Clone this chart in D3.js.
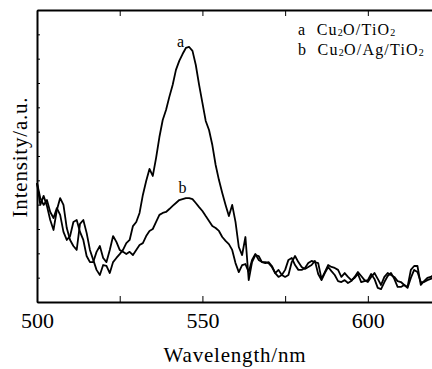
<!DOCTYPE html>
<html lang="en">
<head>
<meta charset="utf-8">
<title>PL spectra</title>
<script src="https://d3js.org/d3.v7.min.js"></script>
<style>
  body { margin: 0; background: #fff; }
  svg { display: block; }
  .axis path, .axis line { stroke: #000; }
  .axis path { stroke-width: 2px; }
  .axis line { stroke-width: 1px; }
  .tick text { font-family: "Liberation Serif", "Times New Roman", serif; font-size: 22px; fill: #000; }
  .title { font-family: "Liberation Serif", "Times New Roman", serif; font-size: 21px; letter-spacing: 0.8px; fill: #000; }
  .legend { font-family: "Liberation Serif", "Times New Roman", serif; font-size: 16px; letter-spacing: 1.2px; fill: #000; }
  .lbl { font-family: "Liberation Serif", "Times New Roman", serif; font-size: 16px; fill: #000; }
  .line { fill: none; stroke: #000; stroke-width: 1.8px; stroke-linejoin: round; }
</style>
</head>
<body>
<div id="vis"></div>
<script>
// wavelength grid, 1 nm step
const wavelengths = d3.range(500, 621);

// curve a : Cu2O/TiO2
const seriesA = [
  4.89, 3.99, 4.36, 3.95, 3.37, 2.96, 3.78, 4.27, 3.99, 3.04,
  2.55, 2.30, 2.14, 3.21, 3.37, 2.84, 2.14, 1.73, 1.32, 1.11,
  1.52, 1.48, 1.19, 1.64, 1.81, 1.97, 2.14, 2.42, 2.55, 3.12,
  3.29, 3.66, 4.40, 4.97, 5.47, 5.18, 5.92, 6.78, 7.48, 7.89,
  8.43, 8.92, 9.54, 9.91, 10.19, 10.44, 10.48, 10.32, 9.74, 8.92,
  8.18, 7.44, 7.07, 6.45, 5.63, 5.01, 4.48, 3.99, 3.53, 3.99,
  3.29, 2.26, 1.93, 2.67, 0.90, 1.64, 1.93, 1.89, 1.64, 1.64,
  1.60, 1.44, 1.19, 1.03, 1.11, 1.32, 1.73, 1.81, 1.52, 1.32,
  1.32, 1.40, 1.60, 1.69, 1.64, 1.60, 0.95, 1.23, 1.52, 1.44,
  1.40, 1.32, 1.03, 1.19, 1.03, 0.90, 0.99, 1.15, 0.82, 0.86,
  0.90, 1.15, 0.95, 0.58, 0.53, 0.82, 1.07, 1.19, 0.95, 0.62,
  0.62, 0.70, 0.62, 1.32, 1.48, 1.48, 0.70, 0.86, 0.99, 1.03,
  1.11
];

// curve b : Cu2O/Ag/TiO2
const seriesB = [
  4.89, 4.27, 3.99, 4.19, 3.70, 3.45, 3.86, 3.58, 2.88, 2.55,
  2.71, 3.29, 3.37, 2.88, 2.55, 1.89, 1.64, 1.64, 2.06, 2.30,
  1.81, 1.64, 2.14, 2.71, 2.47, 2.14, 2.06, 1.97, 2.06, 1.93,
  2.14, 2.34, 2.42, 2.71, 2.92, 3.00, 3.29, 3.58, 3.66, 3.70,
  3.82, 3.95, 4.07, 4.19, 4.23, 4.27, 4.27, 4.23, 4.07, 3.90,
  3.74, 3.53, 3.33, 3.12, 3.04, 2.92, 2.67, 2.51, 2.38, 2.14,
  1.60, 1.23, 1.52, 1.56, 1.23, 1.73, 1.97, 1.73, 1.64, 1.60,
  1.64, 1.48, 1.19, 1.32, 1.11, 1.03, 1.11, 1.64, 1.89, 1.64,
  1.44, 1.36, 1.44, 1.52, 1.69, 1.15, 0.90, 1.19, 1.44, 1.27,
  1.11, 0.86, 0.82, 0.90, 0.78, 0.86, 1.03, 1.23, 1.07, 0.90,
  0.82, 1.03, 1.19, 0.95, 0.70, 1.03, 1.19, 1.11, 1.03, 0.86,
  0.82, 0.70, 0.58, 0.99, 1.32, 1.23, 0.82, 0.82, 0.90, 0.95,
  1.03
];

const xTicks = [500, 525, 550, 575, 600, 625];
const xLabels = [500, 550, 600];
const yTicks = d3.range(0, 13);

const width = 432, height = 369;
const margin = {top: 10, right: -2, bottom: 67, left: 37};

const svg = d3.select("#vis").append("svg")
  .attr("width", width)
  .attr("height", height);

const x = d3.scaleLinear()
  .domain([500, 620])
  .range([margin.left, width - margin.right]);

const y = d3.scaleLinear()
  .domain([0, 12])
  .range([height - margin.bottom, margin.top]);

// axes, ticks pointing inwards
svg.append("g")
  .attr("class", "axis")
  .attr("transform", `translate(0,${height - margin.bottom})`)
  .call(d3.axisBottom(x).tickValues(xTicks).tickSizeInner(-6).tickSizeOuter(0).tickPadding(10)
    .tickFormat(d => xLabels.includes(d) ? d : ""));

svg.append("g")
  .attr("class", "axis")
  .attr("transform", `translate(0,${margin.top})`)
  .call(d3.axisTop(x).tickValues(xTicks).tickSizeInner(-6).tickSizeOuter(0).tickFormat(""));

svg.append("g")
  .attr("class", "axis")
  .attr("transform", `translate(${margin.left},0)`)
  .call(d3.axisLeft(y).tickValues(yTicks).tickSizeInner(-3).tickSizeOuter(0).tickFormat(""));

// spectra
const line = d3.line()
  .x((d, i) => x(wavelengths[i]))
  .y(d => y(d));

svg.selectAll(".line")
  .data([seriesA, seriesB])
  .enter()
  .append("path")
  .attr("class", "line")
  .attr("d", line);

// curve labels
svg.append("text").attr("class", "lbl")
  .attr("x", x(543.4)).attr("y", y(10.5))
  .attr("text-anchor", "middle").text("a");
svg.append("text").attr("class", "lbl")
  .attr("x", x(544)).attr("y", y(4.5))
  .attr("text-anchor", "middle").text("b");

// legend with subscripts
const legend = [
  {key: "a", parts: ["Cu", "2", "O/TiO", "2"]},
  {key: "b", parts: ["Cu", "2", "O/Ag/TiO", "2"]}
];
legend.forEach((l, i) => {
  const t = svg.append("text").attr("class", "legend")
    .attr("x", 298).attr("y", 35 + i * 19.5);
  t.append("tspan").text(l.key + "\u00a0 ");
  l.parts.forEach((p, j) => {
    const s = t.append("tspan").text(p);
    if (j % 2 === 1) s.attr("font-size", "10px").attr("letter-spacing", "0.3px").attr("dy", 1);
    else if (j > 0) s.attr("dy", -1);
  });
});

// axis titles
svg.append("text").attr("class", "title")
  .attr("x", 235).attr("y", 362)
  .attr("text-anchor", "middle")
  .text("Wavelength/nm");

svg.append("text").attr("class", "title")
  .attr("transform", "translate(27,157) rotate(-90)")
  .attr("text-anchor", "middle")
  .text("Intensity/a.u.");
</script>
</body>
</html>
